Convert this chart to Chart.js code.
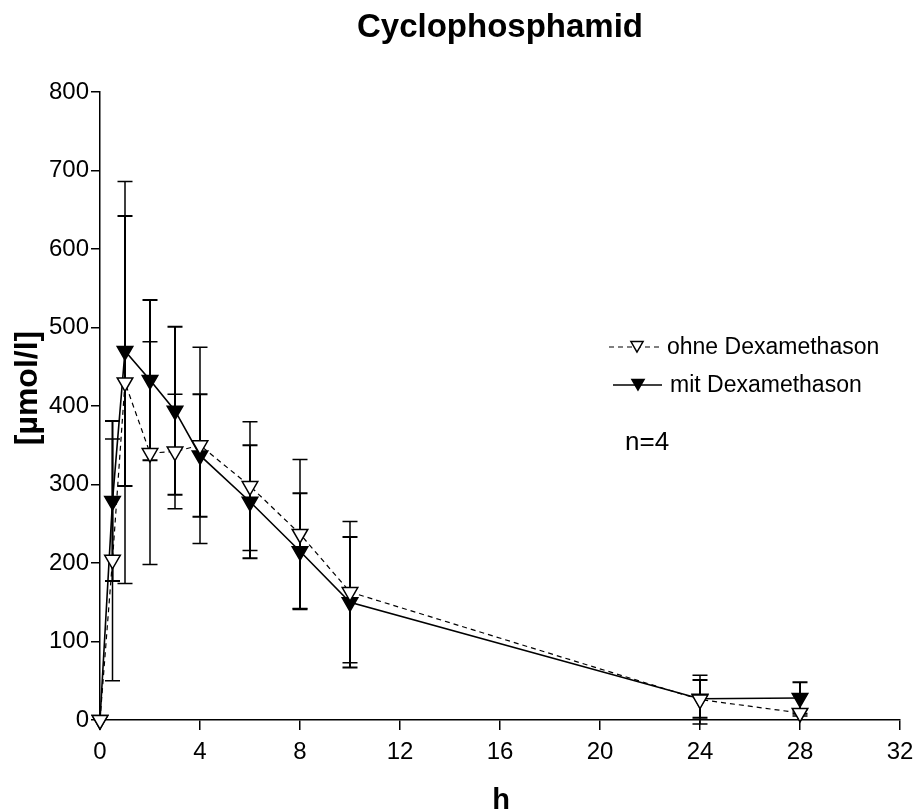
<!DOCTYPE html>
<html>
<head>
<meta charset="utf-8">
<script src="https://cdn.jsdelivr.net/npm/chart.js@4/dist/chart.umd.min.js"></script>
<style>
    body { margin: 0; background: #fff; }
    canvas { display: block; }
</style>
</head>
<body>
<canvas id="cyclophosphamidChart" width="917" height="812"></canvas>
<script>
// Time points (h)
const hours = [0, 0.5, 1, 2, 3, 4, 6, 8, 10, 24, 28];

// ohne Dexamethason: mean and SD (µmol/l)
const ohneMean = [0, 204, 430, 340, 342, 350, 298, 237, 163, 26, 9];
const ohneSD = [0, 154, 256, 142, 73, 125, 82, 95, 90, 31, 4];

// mit Dexamethason: mean and SD (µmol/l)
const mitMean = [0, 279, 470, 433, 394, 337, 278, 215, 150, 27, 28];
const mitSD = [0, 102, 172, 102, 107, 78, 72, 74, 83, 24, 20];

// Axis ticks
const xTicks = [0, 4, 8, 12, 16, 20, 24, 28, 32];
const yTicks = [0, 100, 200, 300, 400, 500, 600, 700, 800];

const FONT = '"Liberation Sans", Arial, sans-serif';

// Error bars (mean ± SD), drawn under the lines and markers
const errorBarPlugin = {
    id: 'errorBars',
    beforeDatasetsDraw(chart) {
        const { ctx, scales: { x, y } } = chart;
        const sets = [
            { mean: mitMean, sd: mitSD, width: 2 },
            { mean: ohneMean, sd: ohneSD, width: 1.5 }
        ];
        ctx.save();
        ctx.strokeStyle = '#000';
        sets.forEach(function(s) {
            ctx.lineWidth = s.width;
            hours.forEach(function(h, i) {
                if (!s.sd[i]) return;
                const px = x.getPixelForValue(h);
                const top = y.getPixelForValue(s.mean[i] + s.sd[i]);
                const bot = y.getPixelForValue(s.mean[i] - s.sd[i]);
                ctx.beginPath();
                ctx.moveTo(px, top); ctx.lineTo(px, bot);
                ctx.moveTo(px - 7.5, top); ctx.lineTo(px + 7.5, top);
                ctx.moveTo(px - 7.5, bot); ctx.lineTo(px + 7.5, bot);
                ctx.stroke();
            });
        });
        ctx.restore();
    }
};

// Title, axis titles, legend and n=4 note
const textPlugin = {
    id: 'texts',
    afterDraw(chart) {
        const ctx = chart.ctx;
        ctx.save();
        ctx.fillStyle = '#000';
        ctx.textAlign = 'center';
        ctx.textBaseline = 'alphabetic';

        ctx.font = 'bold 33px ' + FONT;
        ctx.fillText('Cyclophosphamid', 500, 37);

        ctx.font = 'bold 29px ' + FONT;
        ctx.fillText('h', 501, 809);

        ctx.save();
        ctx.translate(28, 388);
        ctx.rotate(-Math.PI / 2);
        ctx.textBaseline = 'middle';
        ctx.font = 'bold 32px ' + FONT;
        ctx.fillText('[µmol/l]', 0, 0);
        ctx.restore();

        // legend
        ctx.strokeStyle = '#000';
        ctx.lineWidth = 1.2;
        ctx.setLineDash([5, 4]);
        ctx.beginPath();
        ctx.moveTo(609, 347); ctx.lineTo(663, 347);
        ctx.stroke();
        ctx.setLineDash([]);
        ctx.lineWidth = 1.5;
        ctx.beginPath();
        ctx.moveTo(613, 385); ctx.lineTo(662, 385);
        ctx.stroke();
        ctx.fillStyle = '#fff';
        Chart.helpers.drawPoint(ctx, { pointStyle: 'triangle', rotation: 180, radius: 7, borderWidth: 1.2 }, 637, 345);
        ctx.fillStyle = '#000';
        Chart.helpers.drawPoint(ctx, { pointStyle: 'triangle', rotation: 180, radius: 7, borderWidth: 1.2 }, 638, 383);

        ctx.textAlign = 'left';
        ctx.textBaseline = 'middle';
        ctx.font = '23px ' + FONT;
        ctx.fillText('ohne Dexamethason', 667, 348);
        ctx.fillText('mit Dexamethason', 670, 386);

        ctx.font = '26px ' + FONT;
        ctx.fillText('n=4', 625, 443);
        ctx.restore();
    }
};

const cyclophosphamidConfig = {
    type: 'line',
    data: {
        datasets: [{
            label: 'ohne Dexamethason',
            data: hours.map((h, i) => ({ x: h, y: ohneMean[i] })),
            borderColor: '#000',
            borderWidth: 1.2,
            borderDash: [5, 4],
            pointStyle: 'triangle',
            rotation: 180,
            pointRadius: 9,
            pointBackgroundColor: '#fff',
            pointBorderColor: '#000',
            pointBorderWidth: 1.5,
            tension: 0,
            clip: false
        }, {
            label: 'mit Dexamethason',
            data: hours.map((h, i) => ({ x: h, y: mitMean[i] })),
            borderColor: '#000',
            borderWidth: 1.6,
            pointStyle: 'triangle',
            rotation: 180,
            pointRadius: 9,
            pointBackgroundColor: '#000',
            pointBorderColor: '#000',
            pointBorderWidth: 1.5,
            tension: 0,
            clip: false
        }]
    },
    options: {
        responsive: false,
        animation: false,
        layout: {
            padding: { top: 92, right: 17, left: 0, bottom: 0 }
        },
        plugins: {
            legend: { display: false },
            tooltip: { enabled: false },
            title: { display: false }
        },
        scales: {
            x: {
                type: 'linear',
                min: 0,
                max: 32,
                afterFit: function(scale) {
                    scale.height = 92;
                    scale.paddingLeft = 0;
                    scale.paddingRight = 0;
                },
                afterBuildTicks: function(scale) {
                    scale.ticks = xTicks.map(v => ({ value: v }));
                },
                ticks: {
                    color: '#000',
                    font: { family: FONT, size: 24 },
                    padding: 8,
                    maxRotation: 0
                },
                grid: {
                    display: true,
                    drawOnChartArea: false,
                    drawTicks: true,
                    tickLength: 10,
                    color: '#000',
                    lineWidth: 1.5
                },
                border: { display: true, color: '#000', width: 1.5 }
            },
            y: {
                min: 0,
                max: 800,
                afterFit: function(scale) {
                    scale.width = 100;
                    scale.paddingTop = 0;
                    scale.paddingBottom = 0;
                },
                afterBuildTicks: function(scale) {
                    scale.ticks = yTicks.map(v => ({ value: v }));
                },
                ticks: {
                    color: '#000',
                    font: { family: FONT, size: 24 },
                    padding: 2
                },
                grid: {
                    display: true,
                    drawOnChartArea: false,
                    drawTicks: true,
                    tickLength: 9,
                    color: '#000',
                    lineWidth: 1.5
                },
                border: { display: true, color: '#000', width: 1.5 }
            }
        }
    },
    plugins: [errorBarPlugin, textPlugin]
};

new Chart(document.getElementById('cyclophosphamidChart'), cyclophosphamidConfig);
</script>
</body>
</html>
